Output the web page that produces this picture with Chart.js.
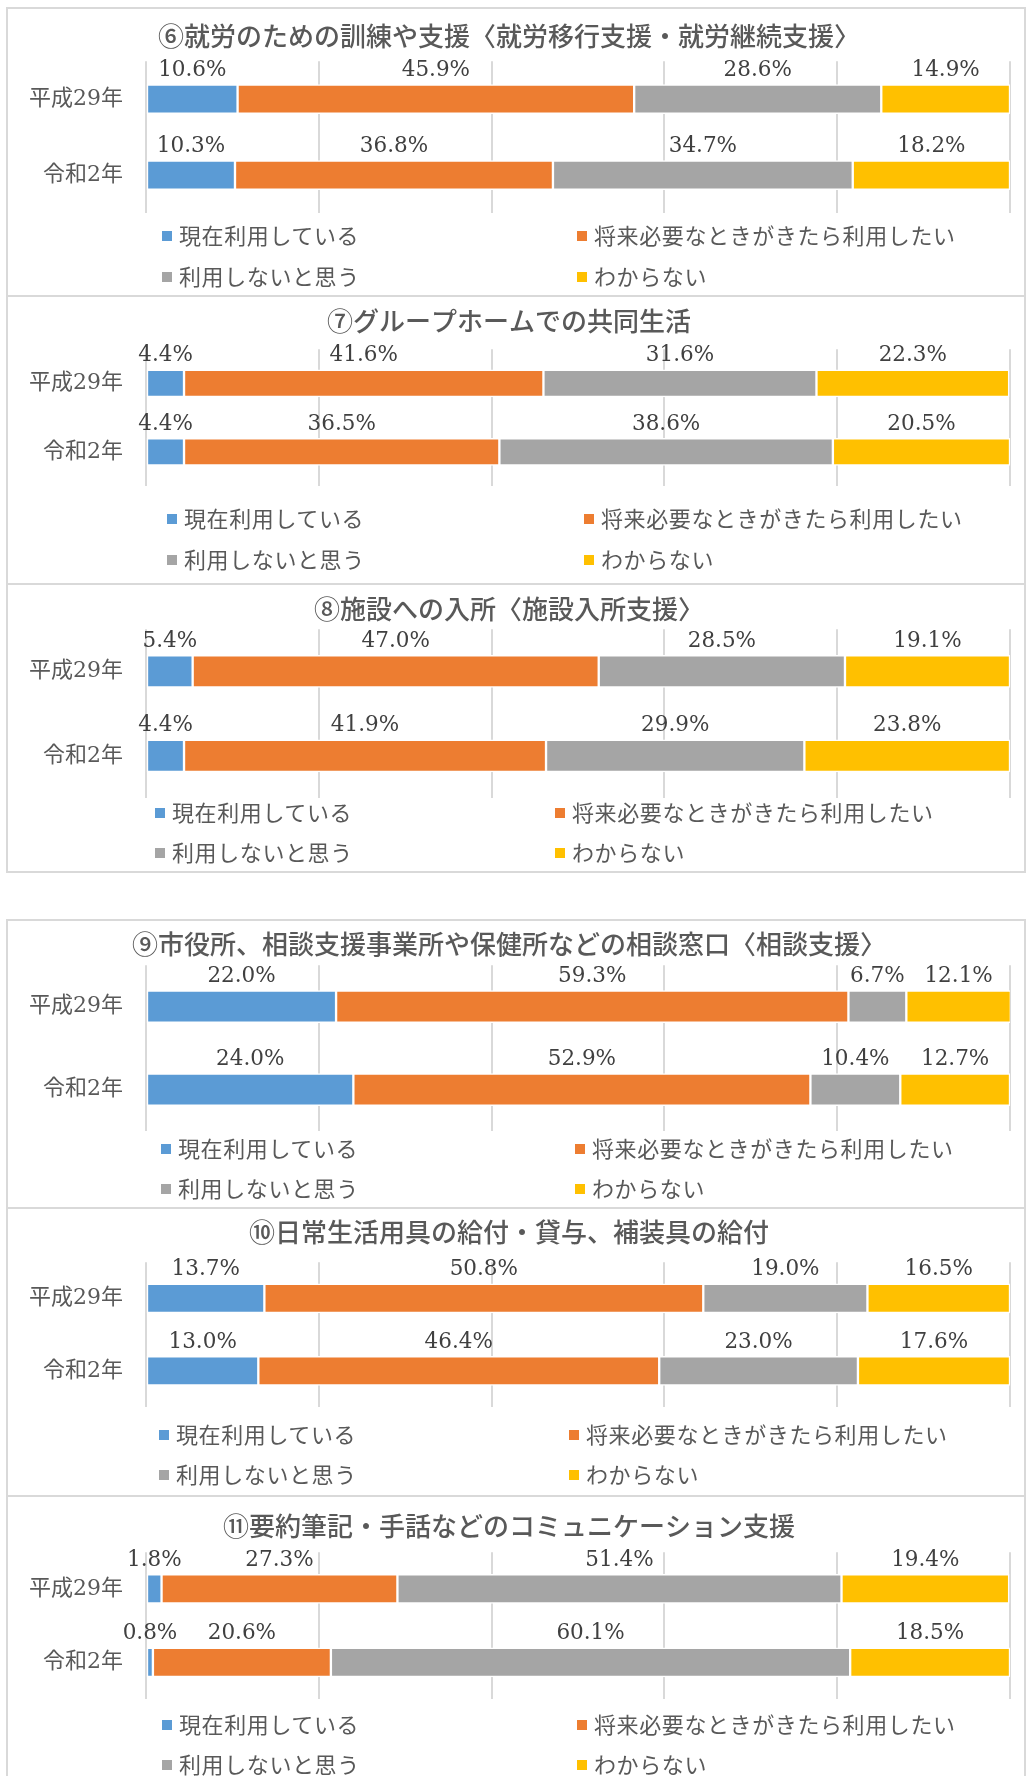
<!DOCTYPE html>
<html lang="ja">
<head>
<meta charset="UTF-8">
<title>障害福祉サービスの利用意向</title>
<script src="https://cdn.jsdelivr.net/npm/chart.js"></script>
<style>
body { margin:0; background:#fff; width:1026px; height:1776px; position:relative; overflow:hidden; font-family:"Noto Sans CJK JP", sans-serif; }
.panel { position:absolute; left:6px; width:1016px; height:286px; border:2px solid #d9d9d9; border-bottom:none; }
.panel.last { border-bottom:2px solid #d9d9d9; }
.panel canvas { position:absolute; left:0; top:0; }
.leg { position:absolute; font-size:22px; line-height:22px; letter-spacing:0.6px; color:#595959; white-space:nowrap; }
.leg b { display:inline-block; width:10px; height:10px; margin-right:7px; vertical-align:middle; position:relative; top:-2px; }
</style>
</head>
<body>
<div id="page"></div>
<script>
// data
const categories = ['平成29年', '令和2年'];
const seriesNames = ['現在利用している', '将来必要なときがきたら利用したい', '利用しないと思う', 'わからない'];
const titles = [
    '⑥就労のための訓練や支援〈就労移行支援・就労継続支援〉',
    '⑦グループホームでの共同生活',
    '⑧施設への入所〈施設入所支援〉',
    '⑨市役所、相談支援事業所や保健所などの相談窓口〈相談支援〉',
    '⑩日常生活用具の給付・貸与、補装具の給付',
    '⑪要約筆記・手話などのコミュニケーション支援'
];
// per panel: [現在利用, 将来必要, 利用しない, わからない]
const heisei29 = [
    [10.6, 45.9, 28.6, 14.9],
    [4.4, 41.6, 31.6, 22.3],
    [5.4, 47.0, 28.5, 19.1],
    [22.0, 59.3, 6.7, 12.1],
    [13.7, 50.8, 19.0, 16.5],
    [1.8, 27.3, 51.4, 19.4]
];
const reiwa2 = [
    [10.3, 36.8, 34.7, 18.2],
    [4.4, 36.5, 38.6, 20.5],
    [4.4, 41.9, 29.9, 23.8],
    [24.0, 52.9, 10.4, 12.7],
    [13.0, 46.4, 23.0, 17.6],
    [0.8, 20.6, 60.1, 18.5]
];
const gridValues = [0, 20, 40, 60, 80, 100];

const colors = ['#5B9BD5', '#ED7D31', '#A5A5A5', '#FFC000'];

// panel geometry (page px)
const panels = [
    {top: 8,    title: 29, gridTop: 53, gridBottom: 205, bar: 29, legRows: [226, 267], legX: [162, 577], last: false},
    {top: 296,  title: 26, gridTop: 53, gridBottom: 190, bar: 27, legRows: [221, 262], legX: [167, 584], last: false},
    {top: 584,  title: 26, gridTop: 45, gridBottom: 214, bar: 32, legRows: [227, 267], legX: [155, 555], last: true},
    {top: 920,  title: 25, gridTop: 45, gridBottom: 211, bar: 32, legRows: [227, 267], legX: [161, 575], last: false},
    {top: 1208, title: 25, gridTop: 54, gridBottom: 199, bar: 29, legRows: [225, 265], legX: [159, 569], last: false},
    {top: 1496, title: 31, gridTop: 56, gridBottom: 203, bar: 29, legRows: [227, 267], legX: [162, 577], last: false}
];

const valueLabels = {
    id: 'valueLabels',
    afterDatasetsDraw(chart) {
        const ctx = chart.ctx;
        ctx.save();
        ctx.font = '21.5px "DejaVu Serif", serif';
        ctx.fillStyle = '#404040';
        ctx.textAlign = 'center';
        ctx.textBaseline = 'middle';
        chart.data.datasets.forEach((ds, i) => {
            chart.getDatasetMeta(i).data.forEach((bar, j) => {
                const p = bar.getProps(['x', 'y', 'base', 'height'], true);
                ctx.fillText(ds.data[j].toFixed(1) + '%', (p.x + p.base) / 2, p.y - p.height / 2 - 14);
            });
        });
        ctx.restore();
    }
};

const page = document.getElementById('page');
const W = 1016, H = 286, X0 = 8;

panels.forEach((g, k) => {
    const box = document.createElement('div');
    box.className = 'panel' + (g.last ? ' last' : '');
    box.style.top = (g.top - 1) + 'px';
    const cv = document.createElement('canvas');
    cv.width = W; cv.height = H;
    box.appendChild(cv);

    // legend
    seriesNames.forEach((name, s) => {
        const d = document.createElement('div');
        d.className = 'leg';
        d.style.left = (g.legX[s % 2] - X0) + 'px';
        d.style.top = (g.legRows[Math.floor(s / 2)] - 1 - 11) + 'px';
        d.innerHTML = '<b style="background:' + colors[s] + '"></b>' + name;
        box.appendChild(d);
    });
    page.appendChild(box);

    const y0 = 1; // content origin offset
    new Chart(cv, {
        type: 'bar',
        data: {
            labels: categories,
            datasets: seriesNames.map((name, s) => ({
                label: name,
                data: [heisei29[k][s], reiwa2[k][s]],
                backgroundColor: colors[s],
                borderColor: '#ffffff',
                borderWidth: 1.5,
                borderSkipped: false,
                barThickness: g.bar
            }))
        },
        options: {
            indexAxis: 'y',
            responsive: false,
            animation: false,
            layout: { padding: { left: 0, right: W - (1010 - X0), top: 0, bottom: H - (g.gridBottom - y0) } },
            plugins: {
                legend: { display: false },
                tooltip: { enabled: false },
                title: {
                    display: true,
                    text: titles[k],
                    color: '#595959',
                    font: { family: '"Noto Sans CJK JP"', size: 26, weight: '500', lineHeight: 1.2 },
                    padding: { top: g.title - y0 - 16, bottom: g.gridTop - g.title - 15 }
                }
            },
            scales: {
                x: {
                    stacked: true, min: 0, max: 100,
                    afterBuildTicks: axis => { axis.ticks = gridValues.map(v => ({ value: v })); },
                    afterFit: axis => { axis.height = 0; },
                    ticks: { display: false },
                    border: { display: false },
                    grid: { color: '#d9d9d9', lineWidth: 2, drawTicks: false }
                },
                y: {
                    stacked: true,
                    afterFit: axis => { axis.width = 146 - X0; },
                    border: { display: false },
                    grid: { display: false, drawTicks: false },
                    ticks: {
                        padding: 23,
                        color: '#595959',
                        font: { family: '"DejaVu Serif", "Noto Sans CJK JP"', size: 22 }
                    }
                }
            }
        },
        plugins: [valueLabels]
    });
});
</script>
</body>
</html>
